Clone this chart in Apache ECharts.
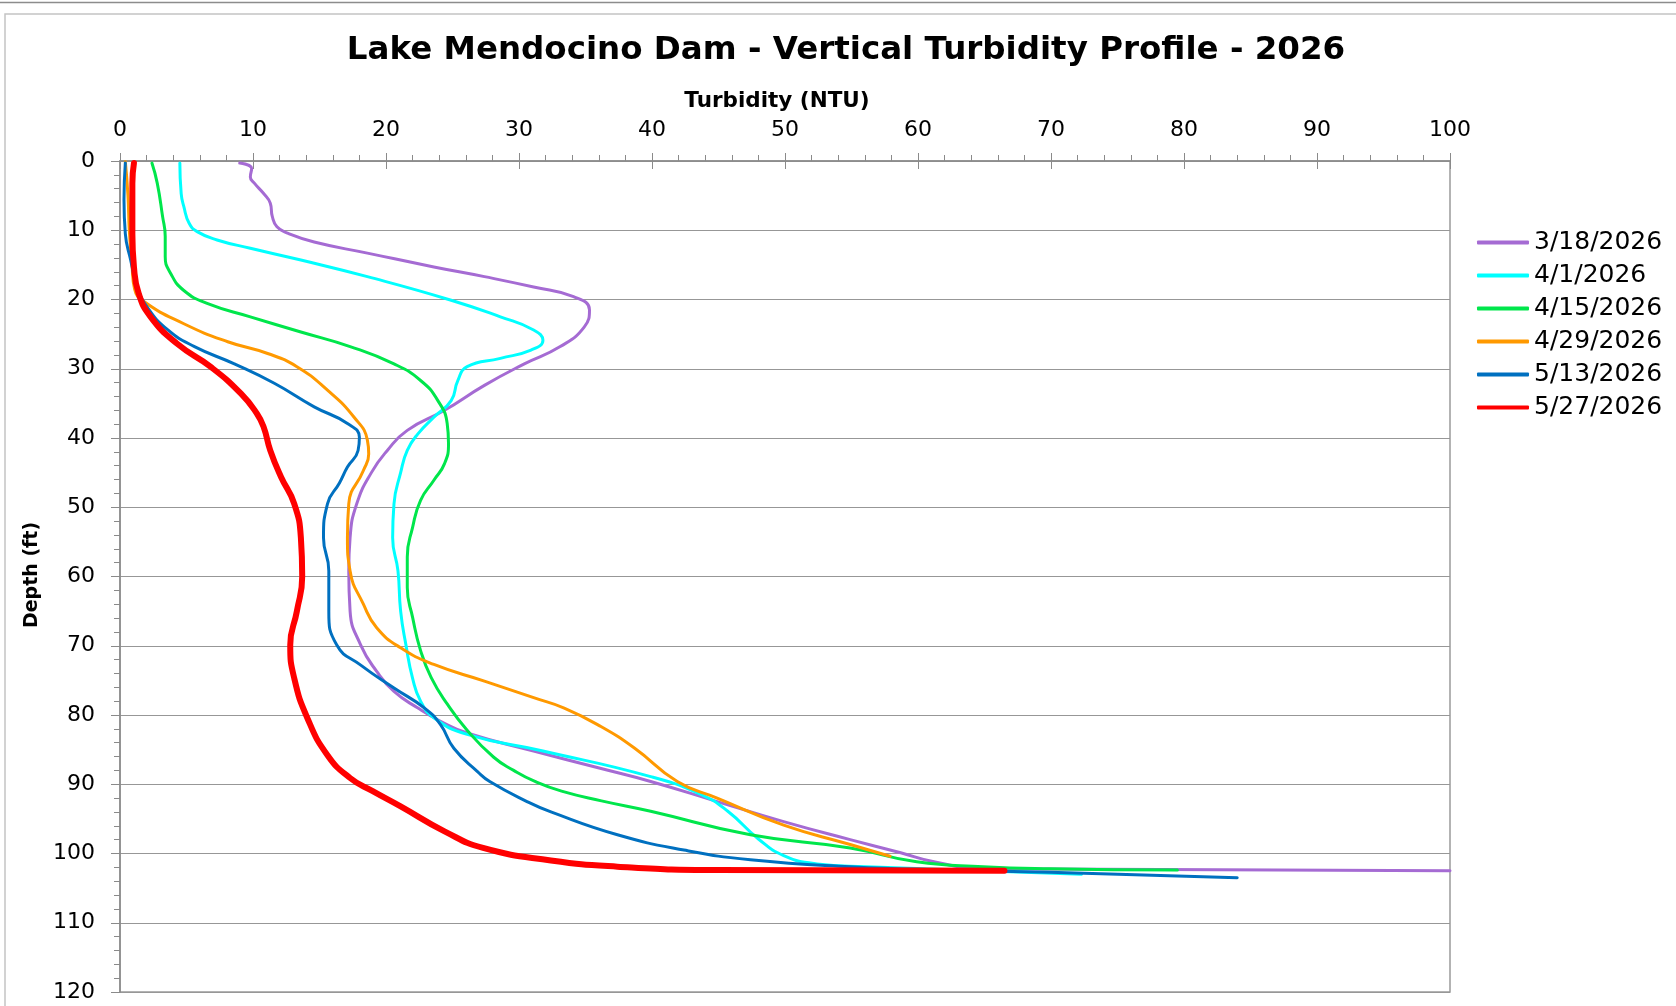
<!DOCTYPE html>
<html><head><meta charset="utf-8">
<script src="https://cdn.jsdelivr.net/npm/echarts@6/dist/echarts.min.js"></script>
<style>html,body{margin:0;padding:0;background:#fff}#c{width:1676px;height:1006px}</style>
</head><body><div id="c"></div>
<script>
const seriesNames = ['3/18/2026', '4/1/2026', '4/15/2026', '4/29/2026', '5/13/2026', '5/27/2026'];
const seriesColors = ['#A56BD3', '#00FFFF', '#00E64B', '#FF9900', '#0070C0', '#FF0000'];

const depth_0318 = [0.3, 1.1, 2.3, 3.2, 4.7, 6.1, 8.0, 9.5, 10.4, 11.7, 13.3, 15.3, 16.7, 18.2, 19.6, 21.5, 24.0, 26.8, 29.3, 32.4, 36.0, 38.9, 41.8, 45.0, 49.5, 54.4, 59.2, 65.0, 69.9, 73.7, 76.6, 79.0, 80.9, 82.6, 85.2, 87.7, 89.6, 92.5, 95.4, 98.0, 99.9, 101.2, 102.2, 102.5];
const ntu_0318   = [9.0, 9.9, 9.8, 10.1, 10.8, 11.3, 11.45, 11.8, 12.6, 14.6, 18.6, 23.6, 27.4, 31.1, 34.1, 35.3, 34.9, 33.1, 30.4, 27.4, 24.4, 21.6, 20.1, 18.9, 17.8, 17.3, 17.2, 17.3, 18.1, 19.3, 20.6, 22.4, 24.1, 26.1, 31.1, 36.1, 39.9, 44.9, 49.9, 54.9, 58.7, 61.2, 65.0, 100];

const depth_0401 = [0.3, 4.7, 6.6, 9.0, 10.2, 11.4, 12.6, 14.3, 16.7, 20.1, 22.5, 24.4, 25.9, 27.3, 28.5, 29.7, 31.7, 34.6, 37.0, 39.4, 41.8, 45.0, 49.5, 54.4, 59.2, 65.0, 69.9, 74.7, 78.0, 80.4, 82.8, 85.2, 88.9, 91.5, 93.9, 97.9, 100.3, 101.5, 101.9, 103.0];
const ntu_0401   = [4.5, 4.6, 4.8, 5.2, 5.8, 7.3, 9.8, 13.6, 18.6, 24.9, 28.6, 31.1, 31.8, 30.9, 28.6, 26.1, 25.4, 24.9, 23.6, 22.4, 21.6, 21.1, 20.6, 20.5, 20.9, 21.1, 21.5, 22.0, 22.6, 23.6, 26.1, 31.8, 39.9, 43.7, 45.7, 48.0, 49.9, 52.4, 56.1, 72.3];

const depth_0415 = [0.3, 3.2, 8.0, 10.9, 13.8, 16.2, 18.7, 20.6, 22.5, 24.7, 26.8, 29.3, 31.7, 34.6, 37.9, 40.8, 43.7, 46.1, 49.0, 52.9, 57.2, 61.6, 65.9, 70.7, 74.6, 78.4, 82.2, 86.1, 88.0, 89.6, 91.0, 92.4, 93.9, 97.3, 99.2, 101.2, 101.9, 102.2, 102.4];
const ntu_0415   = [2.4, 2.8, 3.2, 3.4, 3.4, 3.8, 4.8, 6.6, 9.8, 13.6, 17.3, 20.6, 22.6, 23.9, 24.6, 24.7, 24.4, 23.6, 22.6, 22.0, 21.6, 21.6, 22.0, 22.6, 23.4, 24.6, 26.1, 28.1, 29.6, 31.2, 33.2, 36.2, 39.9, 47.4, 54.9, 59.9, 64.9, 69.9, 79.5];

const depth_0429 = [0.1, 5, 10, 15, 18.5, 20.3, 23.5, 26.1, 27.8, 29.7, 33.1, 37.0, 40.3, 42.3, 44.7, 49.5, 54.4, 59.2, 64.0, 67.4, 70.3, 72.7, 75.1, 77.5, 79.0, 81.6, 84.8, 89.6, 92.0, 95.9, 98.7, 100.4];
const ntu_0429   = [0.4, 0.6, 0.7, 0.9, 1.1, 1.8, 4.8, 8.1, 11.1, 13.3, 15.6, 17.6, 18.6, 18.7, 18.3, 17.2, 17.1, 17.3, 18.3, 19.3, 21.1, 23.6, 27.4, 31.1, 33.4, 36.1, 38.7, 41.9, 44.9, 49.9, 54.9, 57.9];

const depth_0513 = [0.3, 5.6, 10.5, 14.3, 18.2, 21.1, 24.4, 26.8, 29.3, 32.1, 35.5, 37.9, 39.9, 41.8, 44.2, 46.5, 49.5, 54.4, 59.2, 65.0, 69.9, 72.8, 76.1, 79.0, 81.4, 84.8, 88.2, 89.6, 92.5, 94.0, 97.3, 99.5, 100.9, 101.9, 102.4, 102.7, 103.5];
const ntu_0513   = [0.4, 0.3, 0.4, 0.8, 1.3, 2.05, 3.6, 5.6, 8.6, 11.6, 14.6, 17.1, 18.0, 17.9, 17.1, 16.5, 15.6, 15.3, 15.7, 15.7, 16.3, 18.1, 20.6, 22.9, 24.1, 25.1, 26.9, 27.8, 30.6, 32.4, 37.4, 42.4, 47.4, 54.9, 62.4, 69.9, 84.0];

const depth_0527 = [0.3, 3.2, 10.5, 15.3, 19.1, 22.5, 26.4, 29.7, 33.6, 36.5, 38.4, 41.8, 45.6, 49.5, 54.4, 60.0, 65.0, 69.9, 74.7, 80.5, 85.8, 89.1, 91.0, 93.2, 96.8, 99.2, 101.0, 101.9, 102.4, 102.5];
const ntu_0527   = [1.05, 0.93, 0.93, 1.05, 1.4, 2.3, 4.3, 6.8, 9.1, 10.3, 10.8, 11.3, 12.1, 13.1, 13.6, 13.7, 13.3, 12.8, 13.1, 14.1, 15.6, 17.3, 19.0, 21.1, 24.4, 27.3, 32.4, 37.4, 44.9, 66.5];

const seriesDepths = [depth_0318, depth_0401, depth_0415, depth_0429, depth_0513, depth_0527];
const seriesNtu = [ntu_0318, ntu_0401, ntu_0415, ntu_0429, ntu_0513, ntu_0527];
const lineWidths = [3, 3, 3, 3, 3, 6];

const xMin = 0, xMax = 100, xStep = 10;
const yMin = 0, yMax = 120, yStep = 10;

const chart = echarts.init(document.getElementById('c'), null, {renderer: 'canvas'});
const FONT = 'DejaVu Sans';
const axisGrey = '#8a8a8a';

const series = seriesNames.map((name, i) => ({
  name: name,
  type: 'line',
  xAxisIndex: 0, yAxisIndex: 0,
  data: seriesDepths[i].map((d, k) => [seriesNtu[i][k], d]),
  smooth: 0.5,
  showSymbol: false,
  symbol: 'none',
  lineStyle: {color: seriesColors[i], width: lineWidths[i], cap: 'round', join: 'round'},
  itemStyle: {color: seriesColors[i]},
  clip: true,
  z: 3 + i
}));

const option = {
  backgroundColor: '#ffffff',
  animation: false,
  grid: {left: 120, top: 161, width: 1330, height: 831, show: true, borderColor: '#9a9a9a', borderWidth: 1.5, backgroundColor: 'transparent'},
  xAxis: [{
    type: 'value', position: 'top', min: xMin, max: xMax, interval: xStep,
    axisLine: {show: true, lineStyle: {color: axisGrey, width: 1.5}},
    axisTick: {show: true, inside: false, length: 8, lineStyle: {color: axisGrey, width: 1}},
    minorTick: {show: true, splitNumber: 5, length: 6, lineStyle: {color: axisGrey, width: 1}},
    axisLabel: {show: true, margin: 20, fontFamily: FONT, fontSize: 22, color: '#000'},
    splitLine: {show: false}
  }, {
    type: 'value', position: 'top', min: xMin, max: xMax, interval: xStep,
    axisLine: {show: false},
    axisTick: {show: true, inside: true, length: 8, lineStyle: {color: axisGrey, width: 1}},
    axisLabel: {show: false},
    splitLine: {show: false}
  }],
  yAxis: [{
    type: 'value', inverse: true, min: yMin, max: yMax, interval: yStep,
    axisLine: {show: true, lineStyle: {color: axisGrey, width: 1.5}},
    axisTick: {show: true, inside: false, length: 9, lineStyle: {color: axisGrey, width: 1}},
    minorTick: {show: true, splitNumber: 5, length: 6, lineStyle: {color: axisGrey, width: 1}},
    axisLabel: {show: true, margin: 25, fontFamily: FONT, fontSize: 22, color: '#000'},
    splitLine: {show: true, lineStyle: {color: '#979797', width: 1.2}}
  }],
  legend: {
    orient: 'vertical', left: 1472, top: 225,
    itemWidth: 52, itemHeight: 4, itemGap: 8,
    icon: 'roundRect',
    data: seriesNames.map((n, i) => ({name: n, itemStyle: {color: seriesColors[i]}})),
    textStyle: {fontFamily: FONT, fontSize: 25, lineHeight: 25, color: '#000'},
    selectedMode: false
  },
  graphic: [
    {type: 'line', shape: {x1: 0, y1: 2.5, x2: 1676, y2: 2.5}, style: {stroke: '#8c8c8c', lineWidth: 1.5}, silent: true},
    {type: 'rect', shape: {x: 5, y: 14, width: 1700, height: 1100}, style: {fill: 'none', stroke: '#c4c4c4', lineWidth: 1.5}, silent: true},
    {type: 'text', x: 846, y: 51, style: {text: 'Lake Mendocino Dam - Vertical Turbidity Profile - 2026', fontFamily: FONT, fontWeight: 'bold', fontSize: 32.5, fill: '#000', textAlign: 'center', textVerticalAlign: 'middle'}},
    {type: 'text', x: 777, y: 101, style: {text: 'Turbidity (NTU)', fontFamily: FONT, fontWeight: 'bold', fontSize: 21.5, fill: '#000', textAlign: 'center', textVerticalAlign: 'middle'}},
    {type: 'text', x: 32, y: 575, rotation: Math.PI / 2, style: {text: 'Depth (ft)', fontFamily: FONT, fontWeight: 'bold', fontSize: 19, fill: '#000', textAlign: 'center', textVerticalAlign: 'middle'}}
  ],
  series: series
};
chart.setOption(option);
</script>
</body></html>
